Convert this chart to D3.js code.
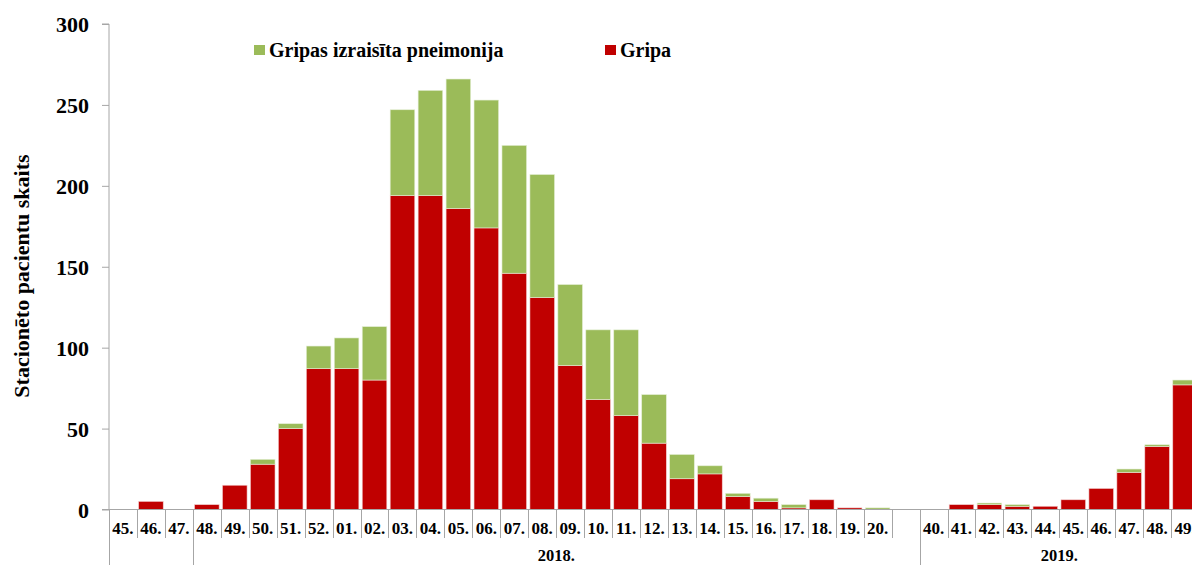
<!DOCTYPE html>
<html>
<head>
<meta charset="utf-8">
<script src="https://cdn.jsdelivr.net/npm/d3@7"></script>
<style>
html,body{margin:0;padding:0;background:#fff;}
svg{display:block;font-family:"Liberation Serif","Times New Roman",serif;font-weight:bold;}
</style>
</head>
<body>
<svg id="chart" width="1192" height="565"></svg>
<script>
// ---- data ----
const categories = ["45.","46.","47.","48.","49.","50.","51.","52.","01.","02.","03.","04.","05.","06.","07.","08.","09.","10.","11.","12.","13.","14.","15.","16.","17.","18.","19.","20.","","40.","41.","42.","43.","44.","45.","46.","47.","48.","49."];
const gripa =      [0,5,0,3,15,28,50,87,87,80,194,194,186,174,146,131,89,68,58,41,19,22,8,5,1,6,1,0,0,0,3,3,2,2,6,13,23,39,77];
const pneimonija = [0,0,0,0,0,3,3,14,19,33,53,65,80,79,79,76,50,43,53,30,15,5,2,2,2,0,0,1,0,0,0,1,1,0,0,0,2,1,3];
const yTicks = [0,50,100,150,200,250,300];
const groupLabels = ["", "2018.", "2019."];
const groupStart = [0, 3, 29];
const groupEnd = [3, 29, 39];
const seriesNames = ["Gripas izraisīta pneimonija", "Gripa"];
const seriesColors = ["#9BBB59", "#C00000"];

// ---- layout ----
const svg = d3.select("#chart");
const x0 = 109, step = 27.95, yZero = 509.5, yTop = 24;
const n = categories.length;
const xb = d3.scaleLinear().domain([0, n]).range([x0, x0 + step * n]); // category boundaries
const y = d3.scaleLinear().domain([0, 300]).range([yZero, yTop]);
const axisColor = "#a6a6a6";

// bars
const data = categories.map((c, i) => ({i, g: gripa[i], p: pneimonija[i]}));
const bw = step * 0.88;
const bx = i => xb(i) + (step - bw) / 2;
svg.append("g").selectAll("rect").data(data.filter(d => d.g > 0)).join("rect")
  .attr("x", d => bx(d.i)).attr("width", bw)
  .attr("y", d => y(d.g)).attr("height", d => yZero - y(d.g))
  .attr("fill", seriesColors[1]).attr("stroke", "#f4d0d0").attr("stroke-width", 0.6);
svg.append("g").selectAll("rect").data(data.filter(d => d.p > 0)).join("rect")
  .attr("x", d => bx(d.i)).attr("width", bw)
  .attr("y", d => y(d.g + d.p)).attr("height", d => y(d.g) - y(d.g + d.p))
  .attr("fill", seriesColors[0]).attr("stroke", "#e4eed6").attr("stroke-width", 0.6);

// y axis
const yAxis = d3.axisLeft(y).tickValues(yTicks).tickSize(7).tickPadding(13);
const gy = svg.append("g").attr("transform", `translate(${x0},0)`).call(yAxis);
gy.select(".domain").attr("stroke", axisColor).attr("d", `M-7,${yTop}H0V${yZero}`);
gy.selectAll(".tick line").attr("stroke", axisColor);
gy.selectAll(".tick text").attr("fill", "#000").style("font-size", "22px")
  .style("font-family", "Liberation Serif").style("font-weight", "bold").attr("dy", "0.35em");

// x axis baseline
svg.append("line").attr("x1", x0 - 7).attr("x2", 1192).attr("y1", yZero).attr("y2", yZero).attr("stroke", axisColor);

// category boundaries
const bigBounds = new Set(groupStart);
svg.append("g").selectAll("line").data(d3.range(n + 1)).join("line")
  .attr("x1", i => Math.round(xb(i)) + 0.5).attr("x2", i => Math.round(xb(i)) + 0.5)
  .attr("y1", yZero).attr("y2", i => bigBounds.has(i) ? 565 : 538)
  .attr("stroke", axisColor);

// category labels
svg.append("g").selectAll("text").data(data).join("text")
  .attr("x", d => xb(d.i) + step / 2).attr("y", 534)
  .attr("text-anchor", "middle").style("font-size", "17px")
  .text(d => categories[d.i]);

// group labels
svg.append("g").selectAll("text").data(groupLabels).join("text")
  .attr("x", (d, k) => (xb(groupStart[k]) + xb(groupEnd[k])) / 2).attr("y", 561)
  .attr("text-anchor", "middle").style("font-size", "16.5px")
  .text(d => d);

// y title
svg.append("text").attr("transform", "translate(29,276) rotate(-90)")
  .attr("text-anchor", "middle").style("font-size", "22px")
  .text("Stacionēto pacientu skaits");

// legend
const legX = [254, 605];
const lg = svg.append("g").selectAll("g").data(seriesNames).join("g")
  .attr("transform", (d, k) => `translate(${legX[k]},45)`);
lg.append("rect").attr("width", 11).attr("height", 10).attr("fill", (d, k) => seriesColors[k]);
lg.append("text").attr("x", 15).attr("y", 11.5).style("font-size", "20px").text(d => d);
</script>
</body>
</html>
